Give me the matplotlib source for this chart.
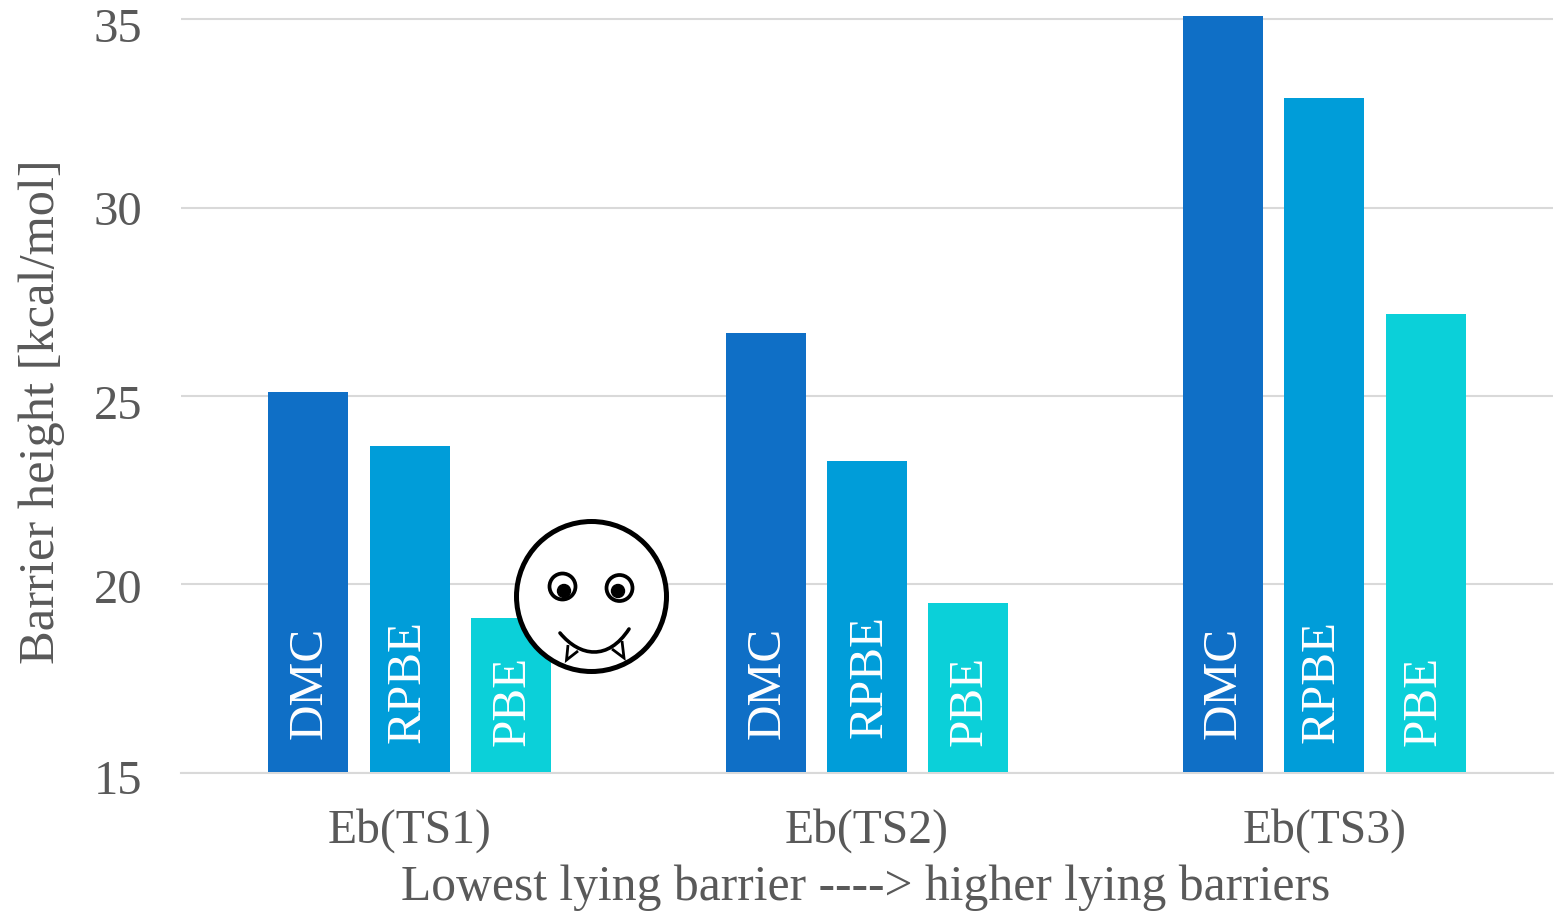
import matplotlib
matplotlib.use("Agg")
import matplotlib.pyplot as plt
from matplotlib.patches import Circle, PathPatch
from matplotlib.path import Path
from matplotlib.transforms import ScaledTranslation
import numpy as np

plt.rcParams["font.family"] = ["Liberation Serif", "DejaVu Serif"]

categories = ["Eb(TS1)", "Eb(TS2)", "Eb(TS3)"]
methods = ["DMC", "RPBE", "PBE"]
dmc = [25.09, 26.68, 35.10]
rpbe = [23.68, 23.28, 32.90]
pbe = [19.09, 19.49, 27.18]
yticks = [15, 20, 25, 30, 35]
colors = ["#0F6FC6", "#009DD9", "#0BD0D9"]
text_color = "#595959"
grid_color = "#D9D9D9"

W, H = 1566, 912
fig = plt.figure(figsize=(W / 100, H / 100), dpi=100)
ax = fig.add_axes([181 / W, 1 - 773.5 / H, (1553 - 181) / W, (773.5 - 16.5) / H])

x = np.arange(len(categories))
width = 0.175
step = 0.2215
series = [dmc, rpbe, pbe]
for i, vals in enumerate(series):
    ax.bar(x + (i - 1) * step, np.array(vals) - 15, width, bottom=15,
           color=colors[i], zorder=3)

ax.set_xlim(-0.5, 2.5)
ax.set_ylim(15, 35.1)
ax.set_yticks(yticks)
ax.set_xticks(x)
ax.set_xticklabels(categories)
ax.grid(axis="y", color=grid_color, lw=1.5, zorder=0)
ax.set_axisbelow(True)
for s in ["top", "right", "left"]:
    ax.spines[s].set_visible(False)
ax.spines["bottom"].set_color(grid_color)
ax.spines["bottom"].set_linewidth(1.5)
ax.tick_params(axis="both", length=0, labelcolor=text_color)
ax.tick_params(axis="x", labelsize=34.3, pad=25)
ax.tick_params(axis="y", labelsize=35, pad=28)

# Nudge the value labels individually so they sit on their gridlines
nudges = [-4, -1, -5, 1, -5]
for lab, dy in zip(ax.get_yticklabels(), nudges):
    lab.set_transform(lab.get_transform() + ScaledTranslation(0, dy / 100, fig.dpi_scale_trans))

ax.set_ylabel("Barrier height [kcal/mol]", fontsize=36.4, color=text_color,
              rotation=90, va="center", ha="center")
ax.yaxis.set_label_coords((42 - 181) / (1553 - 181), (773 - 411) / (773 - 16))
ax.set_xlabel("Lowest lying barrier ----> higher lying barriers", fontsize=35.7,
              color=text_color, va="center", ha="center")
ax.xaxis.set_label_coords((866 - 181) / (1553 - 181), (773 - 887.5) / (773 - 16))

# Method names inside the bars, rotated, with per-bar offsets in pixels
label_dx = [[1, -2, 2], [2, 3, 1], [1, -3, -2]]
label_dy = [[34, 30, 27], [34, 35, 27], [34, 30, 27]]
for g in range(3):
    for i, name in enumerate(methods):
        ax.annotate(name, xy=(x[g] + (i - 1) * step, 15),
                    xytext=(label_dx[g][i] * 0.72, label_dy[g][i] * 0.72),
                    textcoords="offset points", rotation=90, ha="center", va="bottom",
                    color="white", fontsize=35.5, zorder=4)

# Fanged smiley in an overlay that uses pixel coordinates
ov = fig.add_axes([0, 0, 1, 1], zorder=5)
ov.set_xlim(0, W)
ov.set_ylim(H, 0)
ov.axis("off")
ink = dict(edgecolor="black", facecolor="white", joinstyle="miter")
ov.add_patch(Circle((591.5, 597.5), 75, lw=3.6, **ink))
ov.add_patch(Circle((562.5, 587.5), 13, lw=2.7, **ink))
ov.add_patch(Circle((619.5, 589), 13, lw=2.7, **ink))
ov.add_patch(Circle((564, 592), 6.5, color="black"))
ov.add_patch(Circle((618, 592), 6.5, color="black"))
ov.add_patch(PathPatch(Path([(560, 634), (580, 658), (608, 662), (629, 630)],
                            [Path.MOVETO, Path.CURVE4, Path.CURVE4, Path.CURVE4]),
                       fill=False, edgecolor="black", lw=2.6, capstyle="round"))
ov.add_patch(PathPatch(Path([(568, 646), (566.5, 661), (578, 652)]),
                       fill=False, edgecolor="black", lw=2.0))
ov.add_patch(PathPatch(Path([(612, 650), (624, 659), (622, 642)]),
                       fill=False, edgecolor="black", lw=2.0))

fig.savefig("out.png", dpi=100, facecolor="white")
